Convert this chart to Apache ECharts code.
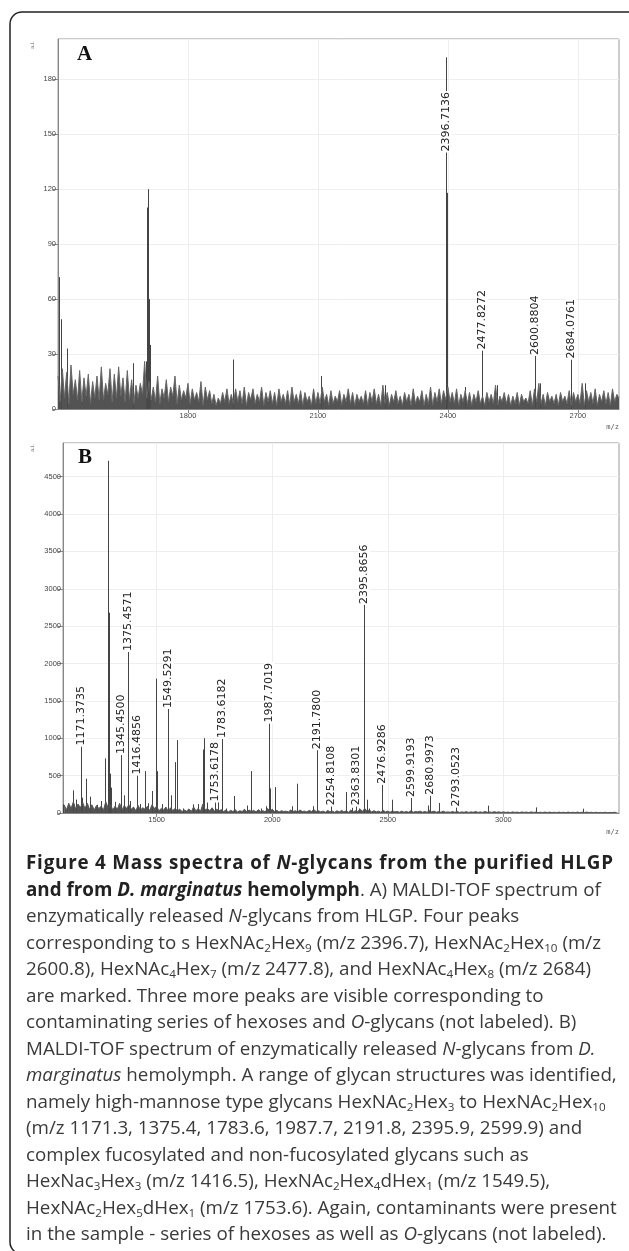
<!DOCTYPE html>
<html>
<head>
<meta charset="utf-8">
<script src="https://cdn.jsdelivr.net/npm/echarts@6/dist/echarts.min.js"></script>
<style>
html, body { margin: 0; padding: 0; background: #fff; }
#main { position: absolute; left: 0; top: 0; width: 629px; height: 1251px; }
#caption { position: absolute; left: 26px; top: 849px; font-family: "Open Sans"; font-size: 18.8px; line-height: 26.5px; color: #3a3a3a; white-space: nowrap; }
#caption b { color: #222; }
#caption .t1 { letter-spacing: 0.8px; }
#caption sub { font-size: 0.62em; vertical-align: -0.3em; line-height: 0; }
</style>
</head>
<body>
<div id="main"></div>
<div id="caption">
<b class="t1">Figure 4 Mass spectra of <i>N</i>-glycans from the purified HLGP</b><br>
<b>and from <i>D. marginatus</i> hemolymph</b>. A) MALDI-TOF spectrum of<br>
enzymatically released <i>N</i>-glycans from HLGP. Four peaks<br>
corresponding to s HexNAc<sub>2</sub>Hex<sub>9</sub> (m/z 2396.7), HexNAc<sub>2</sub>Hex<sub>10</sub> (m/z<br>
2600.8), HexNAc<sub>4</sub>Hex<sub>7</sub> (m/z 2477.8), and HexNAc<sub>4</sub>Hex<sub>8</sub> (m/z 2684)<br>
are marked. Three more peaks are visible corresponding to<br>
contaminating series of hexoses and <i>O</i>-glycans (not labeled). B)<br>
MALDI-TOF spectrum of enzymatically released <i>N</i>-glycans from <i>D.</i><br>
<i>marginatus</i> hemolymph. A range of glycan structures was identified,<br>
namely high-mannose type glycans HexNAc<sub>2</sub>Hex<sub>3</sub> to HexNAc<sub>2</sub>Hex<sub>10</sub><br>
(m/z 1171.3, 1375.4, 1783.6, 1987.7, 2191.8, 2395.9, 2599.9) and<br>
complex fucosylated and non-fucosylated glycans such as<br>
HexNac<sub>3</sub>Hex<sub>3</sub> (m/z 1416.5), HexNAc<sub>2</sub>Hex<sub>4</sub>dHex<sub>1</sub> (m/z 1549.5),<br>
HexNAc<sub>2</sub>Hex<sub>5</sub>dHex<sub>1</sub> (m/z 1753.6). Again, contaminants were present<br>
in the sample - series of hexoses as well as <i>O</i>-glycans (not labeled).
</div>
<script>
// --- spectrum A (HLGP) ---
var noiseA_start = 1500, noiseA_step = 5;
var noiseA = [
  18, 4, 22, 6, 20, 3, 24, 8, 16, 5,
  21, 4, 17, 7, 19, 3, 15, 6, 18, 5,
  23, 5, 14, 8, 22, 4, 19, 6, 23, 7,
  17, 4, 21, 5, 16, 3, 13, 6, 14, 8,
  26, 6, 15, 5, 12, 4, 18, 3, 11, 6,
  16, 4, 12, 7, 18, 3, 13, 5, 10, 6,
  14, 3, 11, 5, 9, 4, 15, 2, 12, 5,
  10, 3, 8, 2, 6, 3, 9, 4, 11, 3,
  8, 3, 11, 4, 10, 3, 12, 2, 9, 5,
  11, 3, 8, 4, 12, 2, 9, 4, 10, 3,
  9, 2, 11, 4, 8, 3, 10, 2, 12, 4,
  8, 3, 10, 2, 9, 4, 7, 2, 11, 3,
  9, 3, 12, 4, 8, 2, 10, 3, 7, 4,
  10, 2, 8, 4, 11, 3, 9, 2, 8, 4,
  7, 3, 10, 2, 9, 4, 11, 3, 8, 2,
  13, 3, 9, 2, 8, 4, 10, 3, 7, 2,
  9, 4, 8, 2, 11, 3, 7, 4, 10, 2,
  8, 3, 12, 2, 9, 4, 11, 3, 10, 5,
  12, 4, 9, 3, 11, 2, 8, 4, 10, 3,
  9, 2, 8, 4, 10, 3, 7, 2, 9, 4,
  8, 3, 13, 2, 7, 4, 9, 3, 8, 2,
  7, 3, 9, 2, 8, 4, 6, 3, 10, 2,
  11, 4, 14, 3, 8, 2, 9, 4, 7, 3,
  8, 2, 9, 4, 7, 3, 10, 2, 9, 4,
  8, 3, 14, 2, 10, 4, 9, 3, 11, 2,
  8, 4, 10, 3, 9, 2, 11, 4, 8, 6
];
var peaksA_mz = [1503, 1506, 1520, 1673, 1703, 1706, 1708, 1710, 1712, 1905, 2106, 2255, 2396.7, 2397.6, 2399, 2440, 2477.83, 2513, 2600.88, 2612, 2684.08, 2716];
var peaksA_int = [72, 49, 33, 25, 26, 110, 120, 60, 35, 27, 18, 13, 192, 118, 53, 12, 32, 13, 29, 14, 27, 14];
var labelsA_mz = [2396.7136, 2477.8272, 2600.8804, 2684.0761];
var labelsA_int = [140, 32, 29, 27];
var ticksA_x = [1800, 2100, 2400, 2700];

// --- spectrum B (D. marginatus hemolymph) ---
var noiseB_start = 1100, noiseB_step = 10;
var noiseB = [
  110, 40, 130, 60, 150, 50, 120, 70, 140, 60,
  130, 50, 110, 40, 100, 60, 90, 40, 150, 70,
  120, 40, 90, 50, 130, 40, 100, 60, 110, 50,
  80, 30, 100, 40, 70, 50, 90, 30, 110, 60,
  90, 30, 60, 40, 80, 25, 70, 35, 60, 30,
  50, 20, 40, 25, 55, 20, 80, 30, 60, 25,
  120, 40, 60, 30, 70, 25, 50, 30, 45, 20,
  40, 15, 35, 20, 45, 15, 30, 20, 50, 15,
  40, 20, 35, 15, 45, 20, 30, 15, 60, 25,
  50, 20, 35, 15, 30, 20, 25, 15, 40, 20,
  30, 15, 40, 20, 25, 15, 35, 20, 45, 20,
  30, 15, 25, 10, 35, 15, 25, 10, 30, 15,
  35, 15, 30, 10, 40, 15, 30, 20, 50, 20,
  60, 25, 40, 15, 30, 15, 25, 10, 35, 15,
  25, 10, 30, 15, 20, 10, 25, 10, 20, 10,
  30, 10, 20, 15, 25, 10, 20, 10, 35, 15,
  25, 10, 20, 10, 25, 10, 15, 10, 20, 10,
  20, 8, 15, 10, 18, 8, 15, 10, 20, 8,
  15, 8, 20, 10, 15, 8, 18, 10, 15, 8,
  15, 8, 12, 6, 15, 8, 12, 6, 14, 8,
  12, 6, 15, 8, 12, 6, 10, 6, 12, 6,
  12, 6, 10, 5, 12, 6, 10, 5, 12, 6,
  10, 5, 12, 6, 10, 5, 12, 6, 10, 5,
  10, 5, 8, 5, 10, 5, 8, 5, 10, 5
];
var peaksB_mz = [1097, 1137, 1150, 1171.37, 1178, 1196, 1213, 1240, 1261, 1275, 1290, 1292, 1297, 1304, 1319,
  1345.45, 1358, 1375.46, 1384, 1416.49, 1428, 1449, 1463, 1481, 1497, 1500, 1522, 1549.53, 1560, 1580, 1588,
  1616, 1659, 1680, 1700, 1704, 1720, 1753.62, 1765, 1783.62, 1800, 1836, 1891, 1907, 1950, 1972, 1987.70, 1990,
  2011, 2087, 2109, 2175, 2191.78, 2194, 2254.81, 2319, 2345, 2363.83, 2375, 2395.87, 2398, 2410, 2420,
  2476.93, 2520, 2599.92, 2675, 2681.0, 2722, 2793.05, 2935, 3140, 3345];
var peaksB_int = [116, 303, 180, 890, 205, 459, 219, 110, 160, 730, 4712, 2680, 526, 339, 150,
  775, 236, 2155, 160, 503, 120, 561, 130, 294, 1798, 560, 120, 1392, 236, 681, 975,
  60, 116, 120, 850, 1001, 140, 142, 150, 990, 60, 227, 100, 561, 60, 90, 1198, 330,
  347, 90, 392, 90, 841, 290, 89, 281, 70, 89, 60, 2784, 1160, 178, 60,
  379, 178, 201, 100, 231, 134, 75, 98, 75, 57];
var labelsB_mz = [1171.3735, 1345.4500, 1375.4571, 1416.4856, 1549.5291, 1753.6178, 1783.6182, 1987.7019,
  2191.7800, 2254.8108, 2363.8301, 2395.8656, 2476.9286, 2599.9193, 2680.9973, 2793.0523];
var labelsB_int = [890, 775, 2155, 503, 1392, 142, 990, 1198, 841, 89, 89, 2784, 379, 201, 231, 75];
var ticksB_x = [1500, 2000, 2500, 3000];

function profile(start, step, vals) {
  return vals.map(function (v, i) { return [start + i * step, v]; });
}
function pairs(xs, ys) {
  return xs.map(function (x, i) { return [x, ys[i]]; });
}

function renderStick(params, api) {
  var b = api.coord([api.value(0), 0]);
  var t = api.coord([api.value(0), api.value(1)]);
  return {
    type: 'line',
    shape: { x1: Math.round(b[0]) + 0.5, y1: b[1], x2: Math.round(t[0]) + 0.5, y2: t[1] },
    style: { stroke: '#444', lineWidth: 1 }
  };
}
function makeLabelRenderer(mzs) {
  return function (params, api) {
    var p = api.coord([api.value(0), api.value(1)]);
    return {
      type: 'text',
      x: Math.round(p[0]) + 0.5,
      y: p[1],
      rotation: Math.PI / 2,
      style: {
        text: mzs[params.dataIndex].toFixed(4),
        font: '11px "DejaVu Sans"',
        fill: '#222',
        align: 'left',
        verticalAlign: 'middle',
        backgroundColor: '#fff',
        padding: [0, 1, 0, 1]
      }
    };
  };
}

var axisText = { fontSize: 7.5, color: '#444', fontFamily: 'Liberation Sans', formatter: function (v) { return String(v); } };

var chart = echarts.init(document.getElementById('main'));
chart.setOption({
  animation: false,
  grid: [
    { left: 58, top: 39, width: 561, height: 370, show: true, borderColor: '#999', borderWidth: 1 },
    { left: 63, top: 443, width: 556, height: 370, show: true, borderColor: '#999', borderWidth: 1 }
  ],
  xAxis: [
    {
      gridIndex: 0, type: 'value', min: 1500, max: 2795,
      axisLine: { onZero: false, lineStyle: { color: '#888' } },
      axisTick: { length: 4, lineStyle: { color: '#888' }, customValues: ticksA_x },
      axisLabel: Object.assign({ margin: 3, customValues: ticksA_x }, axisText),
      splitLine: { show: true, lineStyle: { color: '#eee' } }
    },
    {
      gridIndex: 1, type: 'value', min: 1095, max: 3500,
      axisLine: { onZero: false, lineStyle: { color: '#888' } },
      axisTick: { length: 4, lineStyle: { color: '#888' }, customValues: ticksB_x },
      axisLabel: Object.assign({ margin: 3, customValues: ticksB_x }, axisText),
      splitLine: { show: true, lineStyle: { color: '#eee' } }
    }
  ],
  yAxis: [
    {
      gridIndex: 0, type: 'value', min: 0, max: 202, interval: 30,
      axisLine: { show: true, lineStyle: { color: '#888' } },
      axisTick: { show: true, length: 5, lineStyle: { color: '#888' } },
      axisLabel: Object.assign({ margin: 2, showMaxLabel: false }, axisText),
      splitLine: { show: true, lineStyle: { color: '#eee' } }
    },
    {
      gridIndex: 1, type: 'value', min: 0, max: 4950, interval: 500,
      axisLine: { show: true, lineStyle: { color: '#888' } },
      axisTick: { show: true, length: 5, lineStyle: { color: '#888' } },
      axisLabel: Object.assign({ margin: 2, showMaxLabel: false }, axisText),
      splitLine: { show: true, lineStyle: { color: '#eee' } }
    }
  ],
  series: [
    {
      type: 'line', xAxisIndex: 0, yAxisIndex: 0, data: profile(noiseA_start, noiseA_step, noiseA),
      showSymbol: false, lineStyle: { color: '#666', width: 1 },
      areaStyle: { color: '#4a4a4a', opacity: 0.95 }, silent: true
    },
    {
      type: 'custom', xAxisIndex: 0, yAxisIndex: 0, data: pairs(peaksA_mz, peaksA_int),
      renderItem: renderStick, silent: true
    },
    {
      type: 'custom', xAxisIndex: 0, yAxisIndex: 0, data: pairs(labelsA_mz, labelsA_int),
      renderItem: makeLabelRenderer(labelsA_mz), silent: true, clip: false, z: 5
    },
    {
      type: 'line', xAxisIndex: 1, yAxisIndex: 1, data: profile(noiseB_start, noiseB_step, noiseB),
      showSymbol: false, lineStyle: { color: '#555', width: 1 },
      areaStyle: { color: '#4a4a4a', opacity: 0.95 }, silent: true
    },
    {
      type: 'custom', xAxisIndex: 1, yAxisIndex: 1, data: pairs(peaksB_mz, peaksB_int),
      renderItem: renderStick, silent: true
    },
    {
      type: 'custom', xAxisIndex: 1, yAxisIndex: 1, data: pairs(labelsB_mz, labelsB_int),
      renderItem: makeLabelRenderer(labelsB_mz), silent: true, clip: false, z: 5
    }
  ],
  graphic: [
    { type: 'rect', shape: { x: 10, y: 12, width: 630, height: 1242, r: 12 }, style: { fill: 'none', stroke: '#222', lineWidth: 1.5 }, silent: true },
    { type: 'text', x: 77, y: 55, style: { text: 'A', font: 'bold 21px "Liberation Serif"', fill: '#111', align: 'left', verticalAlign: 'middle' } },
    { type: 'text', x: 78, y: 458, style: { text: 'B', font: 'bold 21px "Liberation Serif"', fill: '#111', align: 'left', verticalAlign: 'middle' } },
    { type: 'text', x: 32, y: 45, rotation: Math.PI / 2, style: { text: 'a.i.', font: '6px "Liberation Serif"', fill: '#555', align: 'center', verticalAlign: 'middle' } },
    { type: 'text', x: 32, y: 448, rotation: Math.PI / 2, style: { text: 'a.i.', font: '6px "Liberation Serif"', fill: '#555', align: 'center', verticalAlign: 'middle' } },
    { type: 'text', x: 619, y: 427, style: { text: 'm/z', font: '7px "DejaVu Sans Mono"', fill: '#555', align: 'right', verticalAlign: 'middle' } },
    { type: 'text', x: 619, y: 832, style: { text: 'm/z', font: '7px "DejaVu Sans Mono"', fill: '#555', align: 'right', verticalAlign: 'middle' } }
  ]
});
</script>
</body>
</html>
